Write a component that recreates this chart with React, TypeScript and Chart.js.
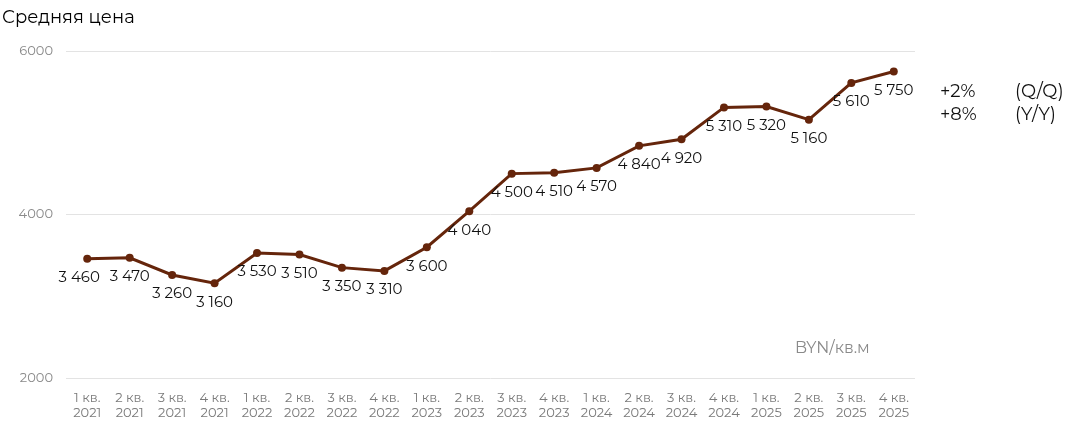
import React, { useEffect, useRef } from "react";
import { Chart, registerables } from "chart.js";

Chart.register(...registerables);

const categories: string[][] = [
  ["1 кв.", "2021"], ["2 кв.", "2021"], ["3 кв.", "2021"], ["4 кв.", "2021"],
  ["1 кв.", "2022"], ["2 кв.", "2022"], ["3 кв.", "2022"], ["4 кв.", "2022"],
  ["1 кв.", "2023"], ["2 кв.", "2023"], ["3 кв.", "2023"], ["4 кв.", "2023"],
  ["1 кв.", "2024"], ["2 кв.", "2024"], ["3 кв.", "2024"], ["4 кв.", "2024"],
  ["1 кв.", "2025"], ["2 кв.", "2025"], ["3 кв.", "2025"], ["4 кв.", "2025"],
];

const prices: number[] = [
  3460, 3470, 3260, 3160,
  3530, 3510, 3350, 3310,
  3600, 4040, 4500, 4510,
  4570, 4840, 4920, 5310,
  5320, 5160, 5610, 5750,
];

const title = "Средняя цена";
const unitLabel = "BYN/кв.м";
const changeLines: string[][] = [
  ["+2%", "(Q/Q)"],
  ["+8%", "(Y/Y)"],
];

const FONT = "Montserrat, 'Noto Sans', 'DejaVu Sans', sans-serif";
const LINE_COLOR = "#65250b";

const fmt = (v: number) => {
  const s = String(v);
  return s.length > 3 ? s.slice(0, s.length - 3) + " " + s.slice(-3) : s;
};

const decorPlugin = {
  id: "decor",
  afterDatasetsDraw(chart: any) {
    const ctx = chart.ctx;
    const meta = chart.getDatasetMeta(0);
    ctx.save();
    ctx.font = `15px ${FONT}`;
    ctx.fillStyle = "#111";
    ctx.textAlign = "center";
    ctx.textBaseline = "middle";
    meta.data.forEach((pt: any, i: number) => {
      const dx = i === 0 ? -8 : 0;
      ctx.fillText(fmt(prices[i]), pt.x + dx, pt.y + 19);
    });
    ctx.font = `18px ${FONT}`;
    ctx.fillStyle = "#000";
    ctx.textAlign = "left";
    ctx.fillText(title, 2, 18);
    ctx.font = `16px ${FONT}`;
    ctx.fillStyle = "#8a8a8a";
    ctx.fillText(unitLabel, 795, 348);
    ctx.font = `18px ${FONT}`;
    ctx.fillStyle = "#111";
    changeLines.forEach((row, i) => {
      const y = 92 + i * 23;
      ctx.fillText(row[0], 940, y);
      ctx.fillText(row[1], 1015, y);
    });
    ctx.restore();
  },
};

export default function App() {
  const ref = useRef<HTMLCanvasElement | null>(null);
  useEffect(() => {
    if (!ref.current) return;
    const chart = new Chart(ref.current, {
      type: "line",
      data: {
        labels: categories,
        datasets: [
          {
            data: prices,
            borderColor: LINE_COLOR,
            backgroundColor: LINE_COLOR,
            borderWidth: 3,
            pointRadius: 4,
            pointBackgroundColor: LINE_COLOR,
            pointBorderWidth: 0,
            tension: 0,
          },
        ],
      },
      options: {
        animation: false,
        responsive: false,
        maintainAspectRatio: false,
        layout: { padding: { top: 51, right: 150, left: 0, bottom: 0 } },
        plugins: {
          legend: { display: false },
          tooltip: { enabled: false },
          title: { display: false },
        },
        scales: {
          x: {
            offset: true,
            grid: { display: false, drawTicks: false },
            border: { display: false },
            ticks: {
              color: "#7a7a7a",
              font: { family: FONT, size: 13 },
              padding: 12,
              maxRotation: 0,
              autoSkip: false,
            },
            afterFit(scale: any) {
              scale.height = 57;
            },
          },
          y: {
            min: 2000,
            max: 6000,
            grid: { color: "#e3e3e3", drawTicks: false, lineWidth: 1 },
            border: { display: false },
            ticks: {
              stepSize: 2000,
              color: "#8a8a8a",
              font: { family: FONT, size: 13 },
              padding: 13,
              callback: (v: any) => String(v),
            },
            afterFit(scale: any) {
              scale.width = 66;
            },
          },
        },
      },
      plugins: [decorPlugin],
    });
    return () => chart.destroy();
  }, []);
  return (
    <div style={{ position: "fixed", left: 0, top: 0, width: 1065, height: 435, background: "#fff" }}>
      <canvas ref={ref} width={1065} height={435} style={{ width: 1065, height: 435 }} />
    </div>
  );
}
